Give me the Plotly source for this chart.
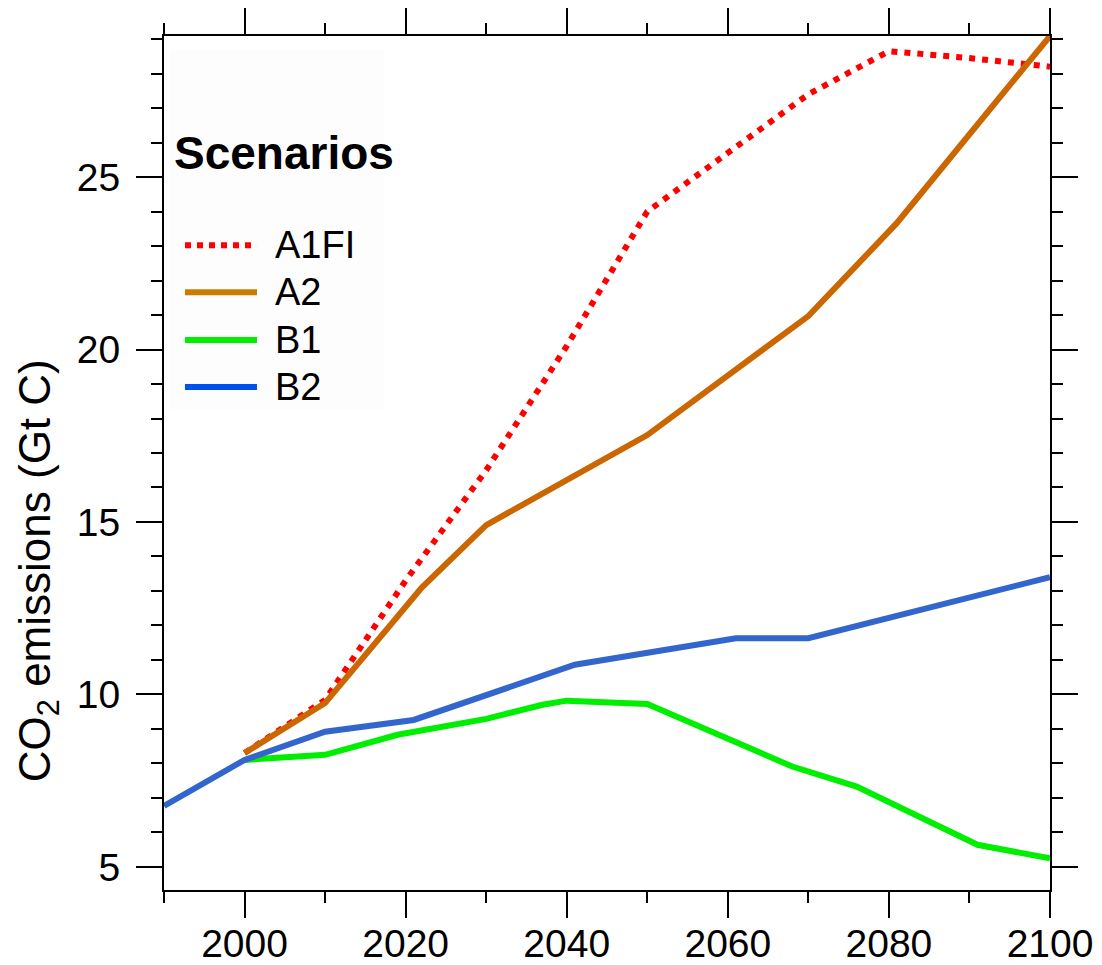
import plotly.graph_objects as go

# Emission pathways per scenario (years, Gt C)
a1fi_years = [2000, 2010, 2020, 2030, 2040, 2050, 2060, 2070, 2080, 2090, 2100]
a1fi_vals = [8.30, 9.84, 13.3, 16.5, 20.1, 24.0, 25.7, 27.4, 28.65, 28.45, 28.2]

a2_years = [2000, 2010, 2022, 2030, 2050, 2070, 2081, 2100]
a2_vals = [8.30, 9.75, 13.1, 14.91, 17.52, 20.97, 23.67, 29.09]

b1_years = [2000, 2010, 2019, 2030, 2037, 2040, 2050, 2068, 2076, 2091, 2100]
b1_vals = [8.10, 8.25, 8.83, 9.29, 9.70, 9.82, 9.72, 7.91, 7.33, 5.64, 5.25]

b2_years = [1990, 2000, 2010, 2021, 2041, 2061, 2070, 2100]
b2_vals = [6.77, 8.10, 8.92, 9.26, 10.86, 11.63, 11.63, 13.4]

scenario_names = ["A1FI", "A2", "B1", "B2"]
line_colors = ["#ff0000", "#cc6600", "#00ee00", "#3366cc"]
legend_colors = ["#ff0000", "#cc7a00", "#00ee00", "#0050f0"]

x_ticks = [2000, 2020, 2040, 2060, 2080, 2100]
y_ticks = [5, 10, 15, 20, 25]

FONT = "Liberation Sans, Arial, Helvetica, sans-serif"

fig = go.Figure()

series = [
    (a1fi_years, a1fi_vals, "6px,7px"),
    (a2_years, a2_vals, "solid"),
    (b1_years, b1_vals, "solid"),
    (b2_years, b2_vals, "solid"),
]
for (xs, ys, dash), name, color in zip(series, scenario_names, line_colors):
    fig.add_trace(go.Scatter(
        x=xs, y=ys, mode="lines", name=name,
        line=dict(color=color, width=6, dash=dash),
        showlegend=False,
    ))

axis_common = dict(
    showline=True, linecolor="black", linewidth=2,
    ticks="outside", tickcolor="black", tickwidth=2, ticklen=26,
    mirror="allticks", showgrid=False, zeroline=False, automargin=False,
    tickfont=dict(family=FONT, size=39, color="black"),
)

fig.update_xaxes(
    range=[1990, 2100], tickvals=x_ticks, ticklabelstandoff=-8,
    minor=dict(dtick=10, tick0=1990, ticks="outside", ticklen=11,
               tickwidth=2, tickcolor="black", showgrid=False),
    **axis_common,
)
fig.update_yaxes(
    range=[4.33, 29.09], tickvals=y_ticks, ticklabelstandoff=8,
    minor=dict(dtick=1, tick0=0, ticks="outside", ticklen=11,
               tickwidth=2, tickcolor="black", showgrid=False),
    **axis_common,
)

# Legend panel drawn inside the plot area
fig.add_shape(type="rect", xref="paper", yref="paper",
              x0=0.007, x1=0.249, y0=0.562, y1=0.984,
              fillcolor="#fdfdfd", line=dict(width=0), layer="below")

fig.add_annotation(xref="paper", yref="paper", x=0.009, y=0.863,
                   xanchor="left", yanchor="middle", showarrow=False,
                   text="<b>Scenarios</b>",
                   font=dict(family=FONT, size=46, color="black"))

legend_rows = [0.755, 0.700, 0.644, 0.589]
for name, color, yr, (_, _, dash) in zip(scenario_names, legend_colors, legend_rows, series):
    fig.add_shape(type="line", xref="paper", yref="paper",
                  x0=0.0237, x1=0.105, y0=yr, y1=yr,
                  line=dict(color=color, width=6,
                            dash="dot" if dash != "solid" else "solid"))
    fig.add_annotation(xref="paper", yref="paper", x=0.123, y=yr,
                       xanchor="left", yanchor="middle", showarrow=False,
                       text=name, font=dict(family=FONT, size=38, color="black"))

# Y-axis title
fig.add_annotation(xref="paper", yref="paper", x=-0.142, y=0.3735,
                   xanchor="center", yanchor="middle", showarrow=False,
                   textangle=-90, text="CO<sub>2</sub> emissions (Gt C)",
                   font=dict(family=FONT, size=44, color="black"))

fig.update_layout(
    width=1102, height=965,
    margin=dict(l=164, r=52, t=36, b=75),
    paper_bgcolor="white", plot_bgcolor="white",
    showlegend=False,
)

fig.write_html("out.html")
